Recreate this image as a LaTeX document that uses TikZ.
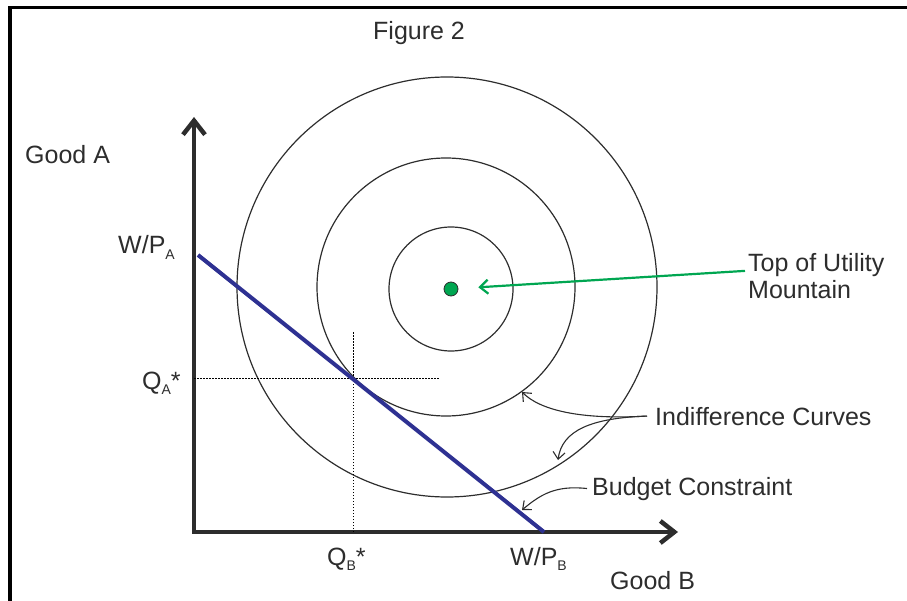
\documentclass[tikz,border=0pt]{standalone}
\usepackage{fontspec}
\setmainfont{Liberation Sans}
\usetikzlibrary{arrows.meta}
\definecolor{budgetblue}{RGB}{46,49,146}
\definecolor{peakgreen}{RGB}{0,166,81}
\definecolor{inkgray}{RGB}{45,45,45}
\newcommand{\lowsub}[1]{\raisebox{-0.45ex}{\fontsize{14}{14}\selectfont #1}}
\tikzset{
  lbl/.style={inner sep=0pt, anchor=base west, text=inkgray, font=\fontsize{25}{27}\selectfont},
  axis/.style={line width=4.5pt, draw=inkgray},
  curve/.style={line width=1.2pt, draw=inkgray},
  guide/.style={line width=1pt, dash pattern=on 1.5pt off 1.5pt},
  pointer/.style={line width=1.1pt, draw=inkgray, -{Straight Barb[length=7pt,width=12pt]}},
}
\begin{document}
\begin{tikzpicture}[x=1pt,y=-1pt]
\useasboundingbox (0,0) rectangle (907,601);
\draw[line width=3.5pt] (10,601) -- (10,7.5) -- (907,7.5);
\coordinate (O) at (194,532);
\coordinate (ytop) at (194,117);
\coordinate (xend) at (678,532);
\draw[axis, {Straight Barb[length=14pt,width=22pt]}-{Straight Barb[length=14pt,width=22pt]}] (ytop) -- (O) -- (xend);
\draw[curve] (447,287) circle[radius=210pt];
\draw[curve] (446,287) circle[radius=129pt];
\draw[curve] (451,289) circle[radius=62pt];
\coordinate (qa) at (194,378);
\coordinate (qb) at (353,532);
\draw[guide] (qa) -- (440,378);
\draw[guide] (qb) -- (353,331);
\coordinate (wa) at (198,255);
\coordinate (wb) at (544,532);
\draw[line width=4pt, budgetblue] (wa) -- (wb);
\node[circle, fill=peakgreen, draw=inkgray, line width=0.8pt, minimum size=14pt, inner sep=0pt] (peak) at (451,289) {};
\node[lbl] (fig) at (373,40) {Figure 2};
\node[lbl] (gooda) at (25,164) {Good A};
\node[lbl] (wpa) at (118,254) {W/P\lowsub{A}};
\node[lbl] (qastar) at (142,389) {Q\lowsub{A}*};
\node[lbl] (qbstar) at (327,565) {Q\lowsub{B}*};
\node[lbl] (wpb) at (510,565) {W/P\lowsub{B}};
\node[lbl] (goodb) at (610,589) {Good B};
\node[lbl, anchor=north west, align=left] (peaklbl) at (748,253) {Top of Utility\\Mountain};
\node[lbl] (indiff) at (655,425) {Indifference Curves};
\node[lbl] (budget) at (592,495) {Budget Constraint};
\draw[line width=2.2pt, peakgreen, -{Straight Barb[length=8pt,width=14pt]}, shorten >=20pt] ([shift={(-3,-5)}]peaklbl.west) -- (peak);
\coordinate (indstart) at ([xshift=-8pt]indiff.west);
\draw[pointer] (indstart) .. controls (580,420) and (540,410) .. (522,392);
\draw[pointer] (indstart) .. controls (592,418) and (562,430) .. (558,460);
\draw[pointer] ([xshift=-5pt]budget.west) .. controls (555,485) and (540,495) .. (522,510);
\end{tikzpicture}
\end{document}
